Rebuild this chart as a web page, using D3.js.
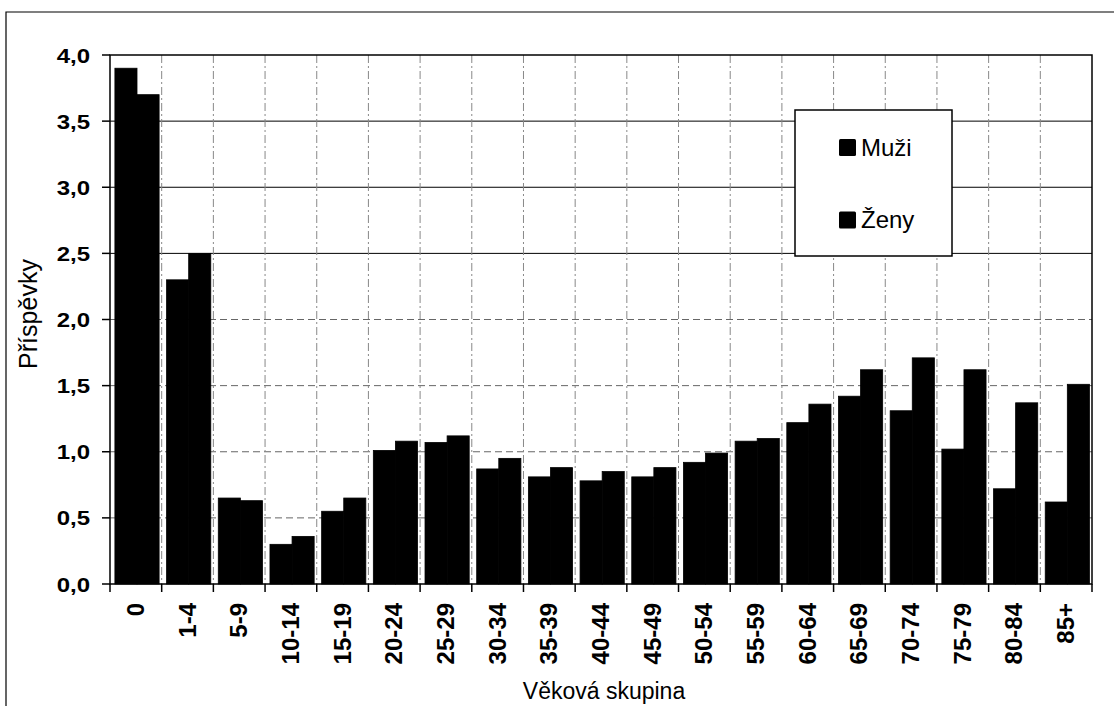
<!DOCTYPE html>
<html>
<head>
<meta charset="utf-8">
<script src="https://cdn.jsdelivr.net/npm/d3@7"></script>
<style>
  body { margin: 0; background: #fff; }
  text { font-family: "Liberation Sans", Arial, sans-serif; fill: #000; }
</style>
</head>
<body>
<svg id="chart" width="1114" height="706"></svg>
<script>
var cats = ["0","1-4","5-9","10-14","15-19","20-24","25-29","30-34","35-39","40-44",
            "45-49","50-54","55-59","60-64","65-69","70-74","75-79","80-84","85+"];
var muzi = [3.9, 2.3, 0.65, 0.30, 0.55, 1.01, 1.07, 0.87, 0.81, 0.78,
            0.81, 0.92, 1.08, 1.22, 1.42, 1.31, 1.02, 0.72, 0.62];
var zeny = [3.7, 2.5, 0.63, 0.36, 0.65, 1.08, 1.12, 0.95, 0.88, 0.85,
            0.88, 0.99, 1.10, 1.36, 1.62, 1.71, 1.62, 1.37, 1.51];
var series = ["Muži", "Ženy"];
var yTicks = [0, 0.5, 1, 1.5, 2, 2.5, 3, 3.5, 4];

// plot box (don't call it "top", that's window.top)
var pLeft = 110, pRight = 1092, pTop = 55, pBottom = 584;
var svg = d3.select("#chart");

var x = d3.scaleBand().domain(cats).range([pLeft, pRight]).padding(0);
var bw = x.bandwidth();
var xs = d3.scaleBand().domain(series).range([bw * 0.095, bw * 0.95]).padding(0);
var y = d3.scaleLinear().domain([0, 4]).range([pBottom, pTop]);
var fmt = function(v) { return d3.format(".1f")(v).replace(".", ","); };

// outer frame (cut off on right and bottom)
svg.append("path").attr("d", "M6,706V12H1114")
  .attr("fill", "none").attr("stroke", "#000").attr("stroke-width", 1.2);

// horizontal gridlines
svg.selectAll(".hg").data(yTicks.filter(function(d) { return d > 0 && d < 4; }))
  .enter().append("line")
  .attr("x1", pLeft).attr("x2", pRight)
  .attr("y1", function(d) { return y(d); }).attr("y2", function(d) { return y(d); })
  .attr("stroke", function(d) { return d >= 2.5 ? "#000" : "#666"; })
  .attr("stroke-width", 1)
  .attr("stroke-dasharray", function(d) { return d >= 2.5 ? null : "7,4"; });

// vertical gridlines
svg.selectAll(".vg").data(cats.slice(1))
  .enter().append("line")
  .attr("x1", function(d) { return x(d); }).attr("x2", function(d) { return x(d); })
  .attr("y1", pTop).attr("y2", pBottom)
  .attr("stroke", "#888").attr("stroke-width", 1)
  .attr("stroke-dasharray", "8,3,2,3");

// bars
var g = svg.selectAll(".grp").data(cats).enter().append("g")
  .attr("transform", function(d) { return "translate(" + x(d) + ",0)"; });
g.append("rect")
  .attr("x", xs("Muži")).attr("width", xs.bandwidth())
  .attr("y", function(d, i) { return y(muzi[i]); })
  .attr("height", function(d, i) { return pBottom - y(muzi[i]); })
  .attr("fill", "#000").attr("stroke", "#000").attr("stroke-width", 0.8);
g.append("rect")
  .attr("x", xs("Ženy")).attr("width", xs.bandwidth())
  .attr("y", function(d, i) { return y(zeny[i]); })
  .attr("height", function(d, i) { return pBottom - y(zeny[i]); })
  .attr("fill", "#000").attr("stroke", "#000").attr("stroke-width", 0.8);

// plot border
svg.append("rect").attr("x", pLeft).attr("y", pTop)
  .attr("width", pRight - pLeft).attr("height", pBottom - pTop)
  .attr("fill", "none").attr("stroke", "#000").attr("stroke-width", 1.5);

// y axis ticks + labels
svg.selectAll(".yt").data(yTicks).enter().append("line")
  .attr("x1", pLeft - 8).attr("x2", pLeft)
  .attr("y1", function(d) { return y(d); }).attr("y2", function(d) { return y(d); })
  .attr("stroke", "#000").attr("stroke-width", 1.5);
svg.selectAll(".yl").data(yTicks).enter().append("text")
  .attr("transform", function(d) { return "translate(90," + (y(d) + 7.5) + ") scale(1.2,1)"; })
  .attr("text-anchor", "end")
  .attr("font-size", 20).attr("font-weight", "bold")
  .text(fmt);

// x axis ticks + labels
svg.selectAll(".xt").data(cats.concat(["end"])).enter().append("line")
  .attr("x1", function(d, i) { return pLeft + i * bw; })
  .attr("x2", function(d, i) { return pLeft + i * bw; })
  .attr("y1", pBottom).attr("y2", pBottom + 8)
  .attr("stroke", "#000").attr("stroke-width", 1.5);
svg.selectAll(".xl").data(cats).enter().append("text")
  .attr("transform", function(d) { return "translate(" + (x(d) + bw / 2 + 8) + ",603) rotate(-90)"; })
  .attr("text-anchor", "end")
  .attr("font-size", 24).attr("font-weight", "bold")
  .text(function(d) { return d; });

// axis titles
svg.append("text")
  .attr("x", 604).attr("y", 699)
  .attr("text-anchor", "middle").attr("font-size", 23)
  .text("Věková skupina");
svg.append("text")
  .attr("transform", "translate(37,314) rotate(-90)")
  .attr("text-anchor", "middle").attr("font-size", 25)
  .text("Příspěvky");

// legend
var lg = svg.append("g");
lg.append("rect").attr("x", 795).attr("y", 110).attr("width", 157).attr("height", 146)
  .attr("fill", "#fff").attr("stroke", "#000").attr("stroke-width", 1.5);
var items = lg.selectAll(".li").data(series).enter().append("g")
  .attr("transform", function(d, i) { return "translate(839," + (139 + i * 72.5) + ")"; });
items.append("rect").attr("width", 17).attr("height", 17).attr("rx", 1.5).attr("fill", "#000");
items.append("text").attr("x", 22).attr("y", 16.5)
  .attr("font-size", 24)
  .text(function(d) { return d; });
</script>
</body>
</html>
